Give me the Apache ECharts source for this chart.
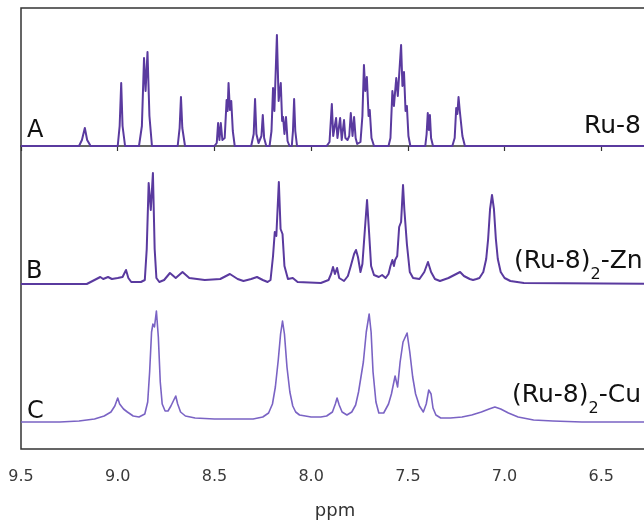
<!DOCTYPE html>
<html>
<head>
<meta charset="utf-8">
<script src="https://cdn.jsdelivr.net/npm/echarts@6/dist/echarts.min.js"></script>
<style>
html,body{margin:0;padding:0;background:#fff;}
#chart{width:644px;height:523px;}
</style>
</head>
<body>
<div id="chart"></div>
<script>
// Spectra: [ppm, intensity above own baseline]
const SPEC_A = [
[9.50,0],[9.20,0],[9.185,6],[9.17,18],[9.158,6],[9.14,0],
[9.00,0],[8.99,20],[8.982,63],[8.975,20],[8.962,0],
[8.89,0],[8.875,20],[8.864,88],[8.856,55],[8.846,94],[8.836,30],[8.823,0],
[8.69,0],[8.68,18],[8.673,49],[8.666,18],[8.652,0],
[8.50,0],[8.488,3],[8.481,23],[8.474,6],[8.467,23],[8.459,6],[8.447,8],[8.437,46],[8.432,35],[8.427,63],[8.42,36],[8.413,45],[8.405,15],[8.395,0],
[8.31,0],[8.297,12],[8.29,47],[8.283,12],[8.272,3],[8.257,10],[8.25,31],[8.243,8],[8.232,0],
[8.215,0],[8.205,15],[8.197,58],[8.19,35],[8.177,111],[8.168,45],[8.157,63],[8.15,25],[8.145,29],[8.138,12],[8.13,29],[8.122,5],[8.112,0],
[8.10,0],[8.094,15],[8.088,47],[8.082,15],[8.073,0],
[7.92,0],[7.905,4],[7.893,42],[7.886,10],[7.877,8],[7.871,28],[7.864,8],[7.856,8],[7.85,28],[7.842,6],[7.836,8],[7.83,26],[7.823,8],[7.812,6],[7.803,10],[7.795,33],[7.786,10],[7.778,29],[7.77,8],[7.762,2],
[7.745,4],[7.735,30],[7.727,81],[7.72,55],[7.712,69],[7.703,30],[7.697,36],[7.688,8],[7.675,0],
[7.60,0],[7.59,8],[7.58,55],[7.572,40],[7.56,68],[7.552,50],[7.535,101],[7.528,60],[7.52,74],[7.512,35],[7.505,40],[7.497,10],[7.487,0],
[7.41,0],[7.403,12],[7.397,33],[7.391,16],[7.386,31],[7.38,8],[7.37,0],
[7.27,0],[7.258,8],[7.25,38],[7.244,32],[7.238,49],[7.232,36],[7.226,38],[7.218,10],[7.205,0],
[6.00,0]
];
const SPEC_B = [
[9.50,0],[9.16,0],[9.13,3],[9.09,7],[9.075,5],[9.05,7],[9.03,5],[9.0,6],[8.975,7],[8.957,14],[8.945,6],[8.93,2],[8.88,2],[8.86,4],
[8.85,35],[8.84,101],[8.829,74],[8.818,111],[8.809,35],[8.80,6],[8.785,2],
[8.76,4],[8.73,11],[8.70,6],[8.665,12],[8.63,6],[8.55,4],[8.47,5],[8.42,10],[8.38,5],[8.35,3],[8.31,5],[8.28,7],[8.25,4],[8.225,2],
[8.21,4],[8.197,28],[8.188,52],[8.18,48],[8.167,102],[8.158,55],[8.148,50],[8.138,18],[8.12,5],[8.095,6],[8.07,2],[7.95,1],
[7.91,4],[7.897,10],[7.887,17],[7.877,10],[7.866,16],[7.855,6],[7.83,3],[7.81,8],[7.795,18],[7.778,30],[7.768,34],[7.758,27],[7.745,12],[7.735,20],[7.722,55],[7.711,84],[7.70,50],[7.69,18],[7.675,9],[7.65,7],[7.633,9],[7.615,6],[7.60,10],[7.59,18],[7.58,24],[7.572,18],[7.566,24],[7.555,28],[7.545,57],[7.535,62],[7.525,99],[7.518,74],[7.512,72],[7.505,40],[7.49,12],[7.473,6],[7.44,5],[7.415,12],[7.396,22],[7.38,12],[7.36,5],[7.334,3],[7.29,6],[7.25,10],[7.23,12],[7.21,8],[7.18,5],[7.163,4],
[7.145,5],[7.13,6],[7.11,12],[7.095,25],[7.085,45],[7.075,75],[7.065,89],[7.055,75],[7.045,45],[7.035,25],[7.02,12],[7.0,6],[6.97,3],[6.9,1],[6.00,0]
];
const SPEC_C = [
[9.50,0],[9.30,0],[9.20,1],[9.12,3],[9.07,6],[9.035,10],[9.015,16],[9.0,24],[8.99,18],[8.97,13],[8.95,10],[8.92,6],[8.89,5],[8.86,8],[8.845,20],[8.835,50],[8.825,90],[8.818,98],[8.81,95],[8.80,111],[8.79,85],[8.78,40],[8.77,18],[8.755,11],[8.74,11],[8.725,16],[8.70,26],[8.69,18],[8.675,10],[8.65,6],[8.60,4],[8.50,3],[8.40,3],[8.30,3],[8.25,5],[8.22,9],[8.20,18],[8.185,35],[8.17,62],[8.158,88],[8.148,101],[8.138,88],[8.125,55],[8.11,30],[8.095,16],[8.08,10],[8.06,7],[8.00,5],[7.95,5],
[7.92,6],[7.89,10],[7.875,18],[7.866,24],[7.855,17],[7.84,10],[7.815,7],[7.79,10],[7.77,17],[7.755,30],[7.74,48],[7.73,60],[7.715,90],[7.70,108],[7.69,90],[7.68,50],[7.665,20],[7.65,9],[7.64,7],[7.625,9],[7.60,18],[7.585,28],[7.566,46],[7.553,35],[7.54,60],[7.525,80],[7.504,89],[7.49,70],[7.475,45],[7.46,28],[7.44,16],[7.42,10],[7.405,18],[7.392,32],[7.38,28],[7.37,14],[7.355,7],[7.33,4],[7.28,4],[7.22,5],[7.17,7],[7.12,10],[7.08,13],[7.05,15],[7.02,13],[6.98,9],[6.93,5],[6.85,2],[6.75,1],[6.60,0],[6.00,0]
];
const TRACE_LABELS = ['A','B','C'];
const SAMPLE_NAMES = ['Ru-8','(Ru-8)|2|-Zn','(Ru-8)|2|-Cu'];
const X_MIN = 6.0, X_MAX = 9.5, X_STEP = 0.5;
const X_NAME = 'ppm';

const chart = echarts.init(document.getElementById('chart'), null, {renderer:'canvas'});
const FONT = 'DejaVu Sans';
const colors = ['#5a3a9f','#5a3a9f','#7a63c4'];
const widths = [2,2,1.6];
const series = [SPEC_A, SPEC_B, SPEC_C].map((d,i)=>({
  type:'line', data:d, yAxisIndex:i, showSymbol:false, symbol:'none',
  lineStyle:{color:colors[i], width:widths[i], join:'round'}, silent:true, animation:false
}));
function richName(s){
  const p = s.split('|');
  return p.length===3 ? '{n|'+p[0]+'}{s|'+p[1]+'}{n|'+p[2]+'}' : '{n|'+s+'}';
}
const leftPos = [[27,131],[26,272],[27,412]];
const rightPos = [[584,126],[514,261],[512,395]];
const graphic = [];
TRACE_LABELS.forEach((t,i)=>graphic.push({type:'text', x:leftPos[i][0], y:leftPos[i][1], silent:true,
  style:{text:t, fill:'#111', font:'24px "'+FONT+'"', verticalAlign:'middle', align:'left'}}));
SAMPLE_NAMES.forEach((t,i)=>graphic.push({type:'text', x:rightPos[i][0], y:rightPos[i][1], silent:true,
  style:{text:richName(t), verticalAlign:'middle', align:'left',
    rich:{n:{fontFamily:FONT, fontSize:25, lineHeight:44, fill:'#111', color:'#111'},
          s:{fontFamily:FONT, fontSize:16, lineHeight:16, verticalAlign:'bottom', fill:'#111', color:'#111'}}}}));
graphic.push({type:'text', x:335, y:511, silent:true,
  style:{text:X_NAME, fill:'#333', font:'18px "'+FONT+'"', align:'center', verticalAlign:'middle'}});

chart.setOption({
  backgroundColor:'#fff',
  animation:false,
  grid:{left:21, top:8, width:677, height:441, show:true, borderColor:'#333', borderWidth:1.5, backgroundColor:'transparent',
        containLabel:false, outerBoundsMode:'none'},
  xAxis:{type:'value', min:X_MIN, max:X_MAX, interval:X_STEP, inverse:true,
    axisLine:{show:true, lineStyle:{color:'#333', width:1.5}},
    axisTick:{show:true, length:5, lineStyle:{color:'#333', width:1.2}},
    splitLine:{show:false},
    axisLabel:{color:'#3a3a3a', fontFamily:FONT, fontSize:16, margin:20, formatter:v=>v.toFixed(1)}
  },
  yAxis:[
    {type:'value', min:-303, max:138, show:false},
    {type:'value', min:-165, max:276, show:false},
    {type:'value', min:-27, max:414, show:false}
  ],
  series:series,
  graphic:graphic
});
</script>
</body>
</html>
